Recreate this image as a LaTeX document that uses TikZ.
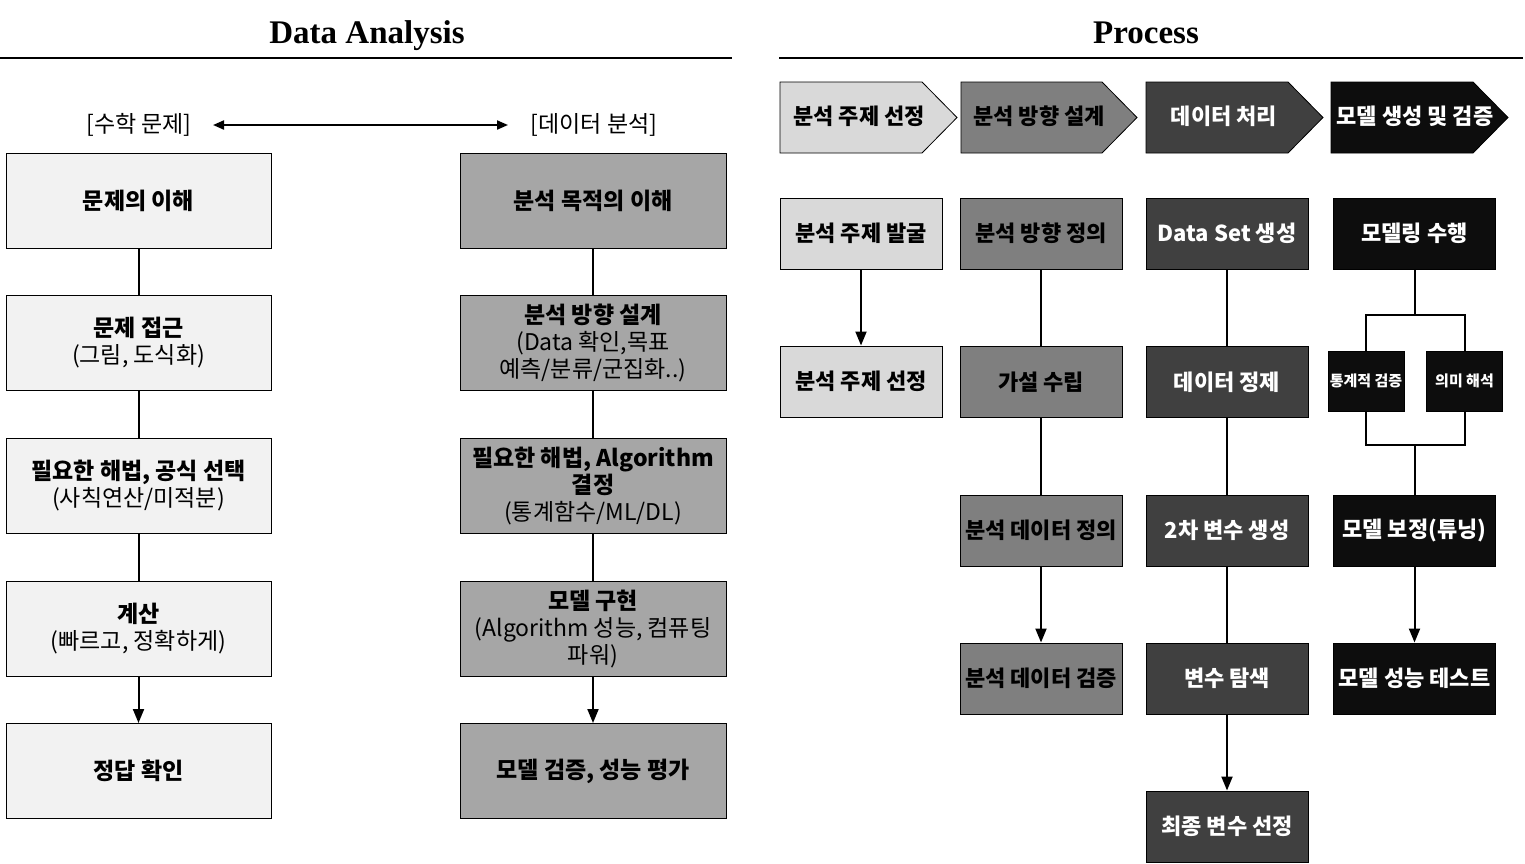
\documentclass[tikz,border=0pt]{standalone}
\usepackage{fontspec}
\setmainfont{Noto Sans CJK KR}
\newfontfamily\titlefont{Liberation Serif}
\usetikzlibrary{arrows.meta}
\definecolor{lboxc}{HTML}{F2F2F2}
\definecolor{rboxc}{HTML}{A6A6A6}
\definecolor{pc1}{HTML}{D9D9D9}
\definecolor{pc2}{HTML}{7F7F7F}
\definecolor{pc3}{HTML}{404040}
\definecolor{pc4}{HTML}{0D0D0D}
\begin{document}
\begin{tikzpicture}[x=1pt,y=-1pt,
  box/.style={draw=black, line width=1pt, inner sep=0pt, align=center},
  lbox/.style={box, fill=lboxc, minimum width=265pt, minimum height=95pt, font=\fontsize{23}{27}\selectfont},
  rbox/.style={lbox, fill=rboxc, minimum width=266pt},
  pbox/.style={box, minimum width=162pt, minimum height=71pt, font=\fontsize{22}{25}\selectfont\bfseries},
  p1/.style={pbox, fill=pc1, text=black},
  p2/.style={pbox, fill=pc2, text=black},
  p3/.style={pbox, fill=pc3, text=white},
  p4/.style={pbox, fill=pc4, text=white},
  sbox/.style={box, fill=pc4, text=white, minimum width=76pt, minimum height=60pt, font=\fontsize{15}{17}\selectfont\bfseries},
  chev/.style={draw=black, line width=0.8pt},
  ptext/.style={inner sep=0pt, font=\fontsize{22}{25}\selectfont\bfseries},
  conn/.style={line width=2pt},
  arr/.style={conn, -{Triangle[length=14pt,width=11pt]}},
  titletext/.style={inner sep=0pt, anchor=base, font=\fontsize{33}{36}\selectfont\titlefont\bfseries},
  tag/.style={inner sep=0pt, font=\fontsize{23}{25}\selectfont}
]
\useasboundingbox (0,0) rectangle (1525,863);
\fill[white] (0,0) rectangle (1525,863);

% titles
\node[titletext] (t1) at (367,43) {Data Analysis};
\node[titletext] (t2) at (1146,43) {Process};
\coordinate (l1a) at (0,58); \coordinate (l1b) at (732,58);
\coordinate (l2a) at (779,58); \coordinate (l2b) at (1523,58);
\draw[line width=2.5pt] (l1a) -- (l1b);
\draw[line width=2.5pt] (l2a) -- (l2b);

% tags
\node[tag] (tagL) at (139,125) {[수학 문제]};
\node[tag] (tagR) at (594,125) {[데이터 분석]};
\coordinate (da) at (213,125); \coordinate (db) at (508,125);
\draw[line width=2pt, {Triangle[length=11pt,width=9pt]}-{Triangle[length=11pt,width=9pt]}] (da) -- (db);

% left column
\node[lbox] (a1) at (138.5,200.5) {\textbf{문제의 이해}};
\node[lbox] (a2) at (138.5,343) {\textbf{문제 접근}\\(그림, 도식화)};
\node[lbox] (a3) at (138.5,486) {\textbf{필요한 해법, 공식 선택}\\(사칙연산/미적분)};
\node[lbox] (a4) at (138.5,628.5) {\textbf{계산}\\(빠르고, 정확하게)};
\node[lbox] (a5) at (138.5,771) {\textbf{정답 확인}};
\draw[conn] (a1) -- (a2);
\draw[conn] (a2) -- (a3);
\draw[conn] (a3) -- (a4);
\draw[arr] (a4) -- (a5);

% right column
\node[rbox] (b1) at (593,200.5) {\textbf{분석 목적의 이해}};
\node[rbox] (b2) at (593,343) {\textbf{분석 방향 설계}\\(Data 확인,목표\\예측/분류/군집화..)};
\node[rbox] (b3) at (593,486) {\textbf{필요한 해법, Algorithm}\\\textbf{결정}\\(통계함수/ML/DL)};
\node[rbox] (b4) at (593,628.5) {\textbf{모델 구현}\\(Algorithm 성능, 컴퓨팅\\파워)};
\node[rbox] (b5) at (593,771) {\textbf{모델 검증, 성능 평가}};
\draw[conn] (b1) -- (b2);
\draw[conn] (b2) -- (b3);
\draw[conn] (b3) -- (b4);
\draw[arr] (b4) -- (b5);

% chevrons
\draw[chev, fill=pc1] (780,82) -- (922,82) -- (957,117.5) -- (922,153) -- (780,153) -- cycle;
\draw[chev, fill=pc2] (961,82) -- (1102,82) -- (1137,117.5) -- (1102,153) -- (961,153) -- cycle;
\draw[chev, fill=pc3] (1146,82) -- (1288,82) -- (1323,117.5) -- (1288,153) -- (1146,153) -- cycle;
\draw[chev, fill=pc4] (1331,82) -- (1473,82) -- (1508,117.5) -- (1473,153) -- (1331,153) -- cycle;
\node[ptext, text=black] (h1) at (859,116) {분석 주제 선정};
\node[ptext, text=black] (h2) at (1039,116) {분석 방향 설계};
\node[ptext, text=white] (h3) at (1224,116) {데이터 처리};
\node[ptext, text=white] (h4) at (1415,116) {모델 생성 및 검증};

% process col 1
\node[p1] (c11) at (861,233.5) {분석 주제 발굴};
\node[p1] (c12) at (861,381.5) {분석 주제 선정};
\draw[arr] (c11) -- (c12);

% process col 2
\node[p2] (c21) at (1041,233.5) {분석 방향 정의};
\node[p2] (c22) at (1041,382) {가설 수립};
\node[p2] (c23) at (1041,530.5) {분석 데이터 정의};
\node[p2] (c24) at (1041,678.5) {분석 데이터 검증};
\draw[conn] (c21) -- (c22);
\draw[conn] (c22) -- (c23);
\draw[arr] (c23) -- (c24);

% process col 3
\node[p3] (c31) at (1227,233.5) {Data Set 생성};
\node[p3] (c32) at (1227,382) {데이터 정제};
\node[p3] (c33) at (1227,530.5) {2차 변수 생성};
\node[p3] (c34) at (1227,678.5) {변수 탐색};
\node[p3] (c35) at (1227,826.5) {최종 변수 선정};
\draw[conn] (c31) -- (c32);
\draw[conn] (c32) -- (c33);
\draw[conn] (c33) -- (c34);
\draw[arr] (c34) -- (c35);

% process col 4
\node[p4] (c41) at (1414.5,233.5) {모델링 수행};
\node[sbox] (s1) at (1366,381) {통계적 검증};
\node[sbox] (s2) at (1464.5,381) {의미 해석};
\node[p4] (c42) at (1414.5,530.5) {모델 보정(튜닝)};
\node[p4] (c43) at (1414.5,678.5) {모델 성능 테스트};
\coordinate (bt) at (1414.5,315);
\coordinate (bb) at (1414.5,445);
\draw[conn] (c41) -- (bt);
\draw[conn] (s1.north) -- (s1.north |- bt) -- (s2.north |- bt) -- (s2.north);
\draw[conn] (s1.south) -- (s1.south |- bb) -- (s2.south |- bb) -- (s2.south);
\draw[conn] (bb) -- (c42);
\draw[arr] (c42) -- (c43);
\end{tikzpicture}
\end{document}
